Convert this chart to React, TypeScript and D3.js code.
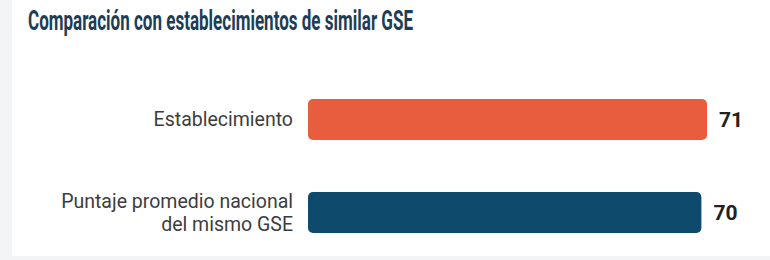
import React from 'react';
import * as d3 from 'd3';

const width = 770, height = 260;
const margin = { top: 99, right: 30, bottom: 27, left: 308 };

// chart data
const title = 'Comparación con establecimientos de similar GSE';
const categories = ['Establecimiento', 'Puntaje promedio nacional|del mismo GSE'];
const values = [71, 70];
const colors = ['#e85d3d', '#0d4a6b'];

export default function App() {
    // x scale: 0..100 points, 0 sits at the bars' left edge
    const xScale = d3.scaleLinear().domain([0, 100]).range([margin.left, margin.left + 562]);

    // band scale for the rows (bars 41px high, 52px apart)
    const yScale = d3.scaleBand<string>()
        .domain(categories)
        .range([margin.top, height - margin.bottom])
        .paddingInner(52 / 93)
        .paddingOuter(0);

    const lineGap = 22.5;

    return (
        <svg width={width} height={height} style={{ position: 'absolute', left: 0, top: 0 }}
            fontFamily="Roboto, 'Noto Sans', sans-serif">
            {/* page background and card */}
            <rect x={0} y={0} width={width} height={height} fill="#f3f4f5" />
            <rect x={12} y={0} width={width - 12} height={256} fill="#ffffff" />

            <text x={28} y={30} fontSize={28} fontWeight={700} fill="#1c3d55"
                textLength={385} lengthAdjust="spacingAndGlyphs">{title}</text>

            {categories.map((c, i) => {
                const y = yScale(c) as number;
                const bw = yScale.bandwidth();
                const cy = y + bw / 2;
                const lines = c.split('|');
                // multi-line labels go in one text element, centred on the bar
                const y0 = cy - (lines.length - 1) / 2 * lineGap;
                return (
                    <g key={c}>
                        <rect x={xScale(0)} y={y} width={xScale(values[i]) - xScale(0)} height={bw}
                            rx={5} fill={colors[i]} />
                        <text x={293} y={y0} textAnchor="end" fontSize={19.5} fill="#3d3d3d">
                            {lines.map((l, j) => (
                                <tspan key={j} x={293} y={y0 + j * lineGap} dy="0.35em">{l}</tspan>
                            ))}
                        </text>
                        <text x={xScale(values[i]) + 12} y={cy} dy="0.35em" fontSize={21}
                            fontWeight={700} fill="#222">{values[i]}</text>
                    </g>
                );
            })}
        </svg>
    );
}
